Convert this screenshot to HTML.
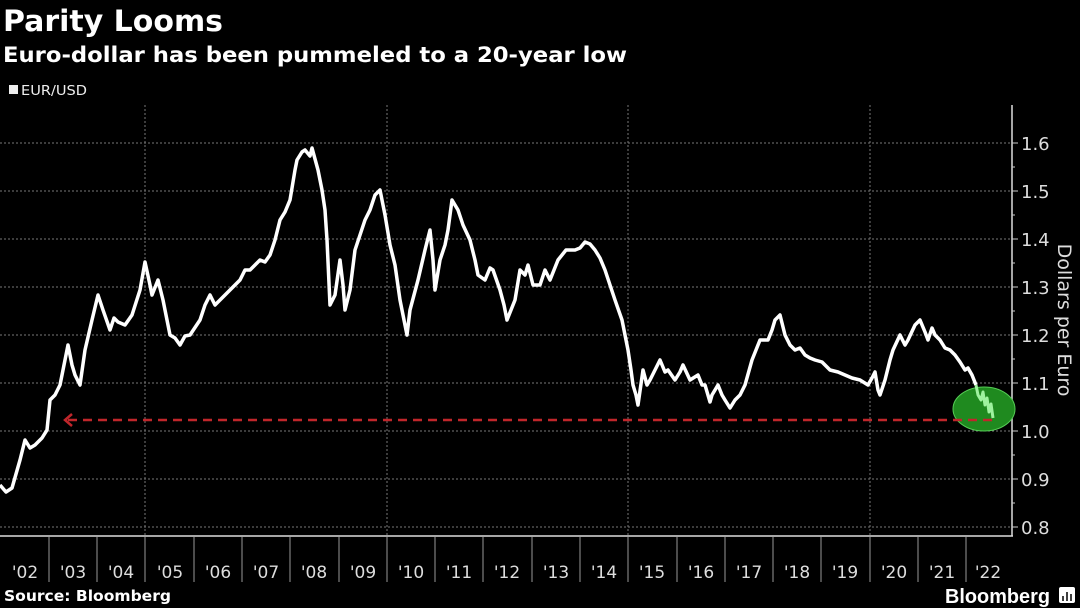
<!DOCTYPE html>
<html><head><meta charset="utf-8"><style>
body{margin:0;background:#000;width:1080px;height:608px;overflow:hidden;font-family:"DejaVu Sans","Liberation Sans",sans-serif;color:#fff}
</style></head><body>
<svg width="1080" height="608" xmlns="http://www.w3.org/2000/svg" style="position:absolute;left:0;top:0">
<rect width="1080" height="608" fill="#000"/>
<text x="3" y="31" font-size="29" font-weight="bold" fill="#fff" textLength="220" lengthAdjust="spacingAndGlyphs">Parity Looms</text>
<text x="3" y="62" font-size="21" font-weight="bold" fill="#fff" textLength="624" lengthAdjust="spacingAndGlyphs">Euro-dollar has been pummeled to a 20-year low</text>
<rect x="9" y="85" width="9" height="9" fill="#eee"/>
<text x="21" y="95" font-size="13" fill="#eee" textLength="66" lengthAdjust="spacingAndGlyphs">EUR/USD</text>
<g stroke="#777" stroke-width="1" stroke-dasharray="2,2">
<line x1="0" x2="1012" y1="143" y2="143"/><line x1="0" x2="1012" y1="191" y2="191"/><line x1="0" x2="1012" y1="239" y2="239"/><line x1="0" x2="1012" y1="287" y2="287"/><line x1="0" x2="1012" y1="335" y2="335"/><line x1="0" x2="1012" y1="383" y2="383"/><line x1="0" x2="1012" y1="431" y2="431"/><line x1="0" x2="1012" y1="479" y2="479"/><line x1="0" x2="1012" y1="527" y2="527"/>
<line x1="145" x2="145" y1="105" y2="536"/><line x1="387" x2="387" y1="105" y2="536"/><line x1="628" x2="628" y1="105" y2="536"/><line x1="870" x2="870" y1="105" y2="536"/>
</g>
<line x1="0" x2="1013" y1="536" y2="536" stroke="#ddd" stroke-width="1.5"/>
<line x1="1012" x2="1012" y1="105" y2="536" stroke="#ddd" stroke-width="1.5"/>
<g stroke="#ccc" stroke-width="1">
<line x1="1012" x2="1018" y1="143" y2="143"/><line x1="1012" x2="1018" y1="191" y2="191"/><line x1="1012" x2="1018" y1="239" y2="239"/><line x1="1012" x2="1018" y1="287" y2="287"/><line x1="1012" x2="1018" y1="335" y2="335"/><line x1="1012" x2="1018" y1="383" y2="383"/><line x1="1012" x2="1018" y1="431" y2="431"/><line x1="1012" x2="1018" y1="479" y2="479"/><line x1="1012" x2="1018" y1="527" y2="527"/>
<line x1="1012" x2="1015" y1="167" y2="167"/><line x1="1012" x2="1015" y1="215" y2="215"/><line x1="1012" x2="1015" y1="263" y2="263"/><line x1="1012" x2="1015" y1="311" y2="311"/><line x1="1012" x2="1015" y1="359" y2="359"/><line x1="1012" x2="1015" y1="407" y2="407"/><line x1="1012" x2="1015" y1="455" y2="455"/><line x1="1012" x2="1015" y1="503" y2="503"/>
</g>
<g stroke="#999" stroke-width="1">
<line x1="49" x2="49" y1="537" y2="582"/><line x1="97" x2="97" y1="537" y2="582"/><line x1="145" x2="145" y1="537" y2="582"/><line x1="194" x2="194" y1="537" y2="582"/><line x1="242" x2="242" y1="537" y2="582"/><line x1="290" x2="290" y1="537" y2="582"/><line x1="339" x2="339" y1="537" y2="582"/><line x1="387" x2="387" y1="537" y2="582"/><line x1="435" x2="435" y1="537" y2="582"/><line x1="483" x2="483" y1="537" y2="582"/><line x1="532" x2="532" y1="537" y2="582"/><line x1="580" x2="580" y1="537" y2="582"/><line x1="628" x2="628" y1="537" y2="582"/><line x1="677" x2="677" y1="537" y2="582"/><line x1="725" x2="725" y1="537" y2="582"/><line x1="773" x2="773" y1="537" y2="582"/><line x1="821" x2="821" y1="537" y2="582"/><line x1="870" x2="870" y1="537" y2="582"/><line x1="918" x2="918" y1="537" y2="582"/><line x1="966" x2="966" y1="537" y2="582"/>
</g>
<g font-size="17" fill="#ddd" text-anchor="middle">
<text x="25" y="578">'02</text><text x="73" y="578">'03</text><text x="121" y="578">'04</text><text x="170" y="578">'05</text><text x="218" y="578">'06</text><text x="266" y="578">'07</text><text x="314" y="578">'08</text><text x="363" y="578">'09</text><text x="411" y="578">'10</text><text x="459" y="578">'11</text><text x="507" y="578">'12</text><text x="556" y="578">'13</text><text x="604" y="578">'14</text><text x="652" y="578">'15</text><text x="701" y="578">'16</text><text x="749" y="578">'17</text><text x="797" y="578">'18</text><text x="845" y="578">'19</text><text x="894" y="578">'20</text><text x="942" y="578">'21</text><text x="988" y="578">'22</text>
</g>
<g font-size="18" fill="#ddd">
<text x="1021" y="150">1.6</text><text x="1021" y="198">1.5</text><text x="1021" y="246">1.4</text><text x="1021" y="294">1.3</text><text x="1021" y="342">1.2</text><text x="1021" y="390">1.1</text><text x="1021" y="438">1.0</text><text x="1021" y="486">0.9</text><text x="1021" y="534">0.8</text>
</g>
<text transform="translate(1058,320) rotate(90)" font-size="19" fill="#ddd" text-anchor="middle">Dollars per Euro</text>
<ellipse cx="984" cy="409" rx="31" ry="22" fill="#1f8a1f" stroke="#5c5" stroke-width="1"/>
<line x1="68" x2="992" y1="420" y2="420" stroke="#c0262b" stroke-width="2.5" stroke-dasharray="9,6"/>
<polyline points="72,414 65,420 72,426" fill="none" stroke="#c0262b" stroke-width="2.5"/>
<g fill="none" stroke-linejoin="round">
<polyline stroke="#fff" stroke-width="3.5" points="0,485 6,492 12,488 20,460 25,440 30,448 35,445 42,438 47,430 50,400 55,395 60,385 65,360 68,345 72,365 75,375 80,385 85,350 92,320 98,295 103,310 110,330 114,318 118,322 125,325 132,315 140,290 145,262 150,285 152,295 158,280 163,300 170,335 175,338 180,345 185,336 190,335 200,320 205,305 210,295 215,305 220,300 230,290 240,280 245,270 250,270 255,265 260,260 265,262 270,255 275,240 280,220 285,212 290,200 295,170 297,160 302,152 305,150 310,156 312,148 318,170 322,190 325,210 327,240 330,305 335,295 340,260 343,285 345,310 350,290 355,250 360,235 365,220 370,210 375,195 380,190 385,215 390,245 395,265 400,300 404,320 407,335 410,310 414,295 418,280 425,250 430,230 433,260 435,290 440,260 445,245 448,230 452,200 458,210 463,225 470,240 475,260 478,275 485,280 490,268 493,270 500,290 504,305 507,320 511,310 515,300 520,270 525,275 528,265 533,285 540,285 545,270 550,280 558,260 566,250 575,250 580,248 585,242 590,244 595,250 600,258 605,270 610,285 615,300 622,320 625,335 628,350 631,370 633,385 636,395 638,405 643,370 647,385 650,380 655,370 660,360 665,372 668,370 675,380 680,372 683,365 690,380 698,375 702,385 705,385 710,402 712,395 718,385 722,395 725,400 730,408 735,400 740,395 745,385 752,360 756,350 760,340 768,340 772,330 775,320 780,315 785,335 790,345 795,350 800,348 805,355 810,358 815,360 822,362 830,370 838,372 845,375 852,378 860,380 868,385 872,378 875,372 878,390 880,395 885,380 890,360 893,350 900,335 905,345 908,340 915,325 920,320 925,332 928,340 932,328 935,335 940,340 945,348 950,350 955,355 960,362 965,370 968,368 972,375 976,385"/>
<polyline stroke="#9ef29e" stroke-width="3" points="976,385 978,395 981,400 983,392 985,405 987,398 989,412 991,404 993,418"/>
</g>
<text x="4" y="601" font-size="15" font-weight="bold" fill="#fff" textLength="167" lengthAdjust="spacingAndGlyphs">Source: Bloomberg</text>
<text x="945" y="603" font-size="20" font-weight="bold" fill="#fff" font-family="Liberation Sans, sans-serif" textLength="105" lengthAdjust="spacingAndGlyphs">Bloomberg</text>
<rect x="1059" y="587" width="16" height="16" rx="2" fill="#fff"/>
<g stroke="#000" stroke-width="1.5"><line x1="1063" x2="1063" y1="596" y2="601"/><line x1="1067" x2="1067" y1="592" y2="601"/><line x1="1071" x2="1071" y1="594" y2="601"/></g>
</svg>
</body></html>
